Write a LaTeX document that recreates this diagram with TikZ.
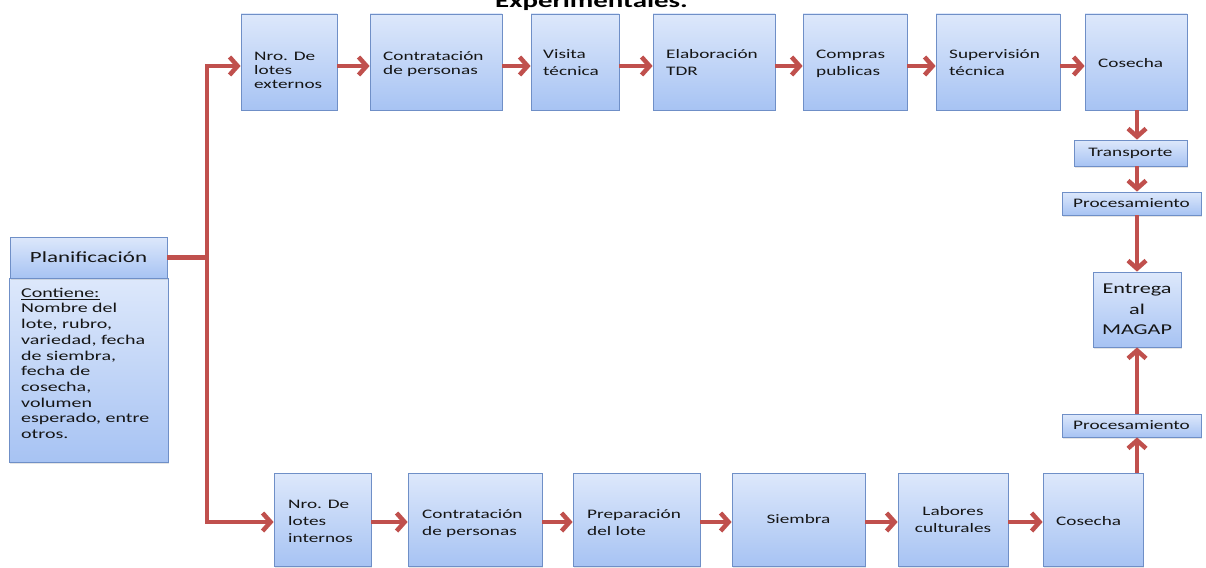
\documentclass[tikz,border=0pt]{standalone}
\usepackage{fontspec}
\setmainfont[FakeStretch=1.48]{Carlito}
\usetikzlibrary{arrows.meta,shadows}
\definecolor{arrowred}{HTML}{C0504D}
\definecolor{boxline}{HTML}{6F8FC7}
\definecolor{boxtop}{HTML}{DDE8FB}
\definecolor{boxbot}{HTML}{A7C3F3}
\definecolor{txt}{HTML}{151515}
\begin{document}
\begin{tikzpicture}[x=1pt,y=-1pt,
  box/.style={draw=boxline, line width=0.8pt, top color=boxtop, bottom color=boxbot,
    inner sep=0pt, text=txt, align=center, font=\fontsize{13}{17}\selectfont,
    drop shadow={shadow xshift=1pt,shadow yshift=-1.5pt,opacity=0.2}},
  lbl/.style={anchor=north west, inner sep=0pt, align=left, text=txt, font=\fontsize{13}{17}\selectfont},
  conn/.style={draw=arrowred, line width=4.5pt},
  arr/.style={conn, -{Straight Barb[length=8pt,width=18pt]}},
]
\fill[white] (0,0) rectangle (1206,567);
\useasboundingbox (0,0) rectangle (1206,567);

% title
\node[anchor=base west, inner sep=0pt, text=black, font=\bfseries\fontsize{19.5}{21}\selectfont] (title) at (495,8) {Experimentales.};

% Planificacion
\node[box, minimum width=159pt, minimum height=184pt] (pb) at (88.5,370) {};
\node[box, minimum width=157pt, minimum height=41pt, font=\fontsize{15.5}{18}\selectfont] (ph) at (88.5,257.5) {Planificación};
\node[lbl, font=\fontsize{13.5}{15.7}\selectfont] (pbt) at (21,286.5) {\rule{0pt}{10.5pt}\underline{Contiene:}\\Nombre del\\lote, rubro,\\variedad, fecha\\de siembra,\\fecha de\\cosecha,\\volumen\\esperado, entre\\otros.};

% top row
\node[box, minimum width=96pt, minimum height=96pt] (ne) at (289,62) {};
\node[lbl, font=\fontsize{13}{14.3}\selectfont] (net) at (254,49.7) {\rule{0pt}{10.3pt}Nro. De\\lotes\\externos};
\node[box, minimum width=132pt, minimum height=96pt] (ct1) at (436,62) {};
\node[lbl, font=\fontsize{13}{14.3}\selectfont] (ct1t) at (383,49.7) {\rule{0pt}{10.3pt}Contratación\\de personas};
\node[box, minimum width=88pt, minimum height=96pt] (vt) at (575,62) {};
\node[lbl] (vtt) at (543,47.7) {\rule{0pt}{10.3pt}Visita\\técnica};
\node[box, minimum width=122pt, minimum height=96pt] (el) at (714,62) {};
\node[lbl] (elt) at (666,47.7) {\rule{0pt}{10.3pt}Elaboración\\TDR};
\node[box, minimum width=104pt, minimum height=96pt] (cp) at (855,62) {};
\node[lbl] (cpt) at (816,47.7) {\rule{0pt}{10.3pt}Compras\\publicas};
\node[box, minimum width=124pt, minimum height=96pt] (sv) at (998,62) {};
\node[lbl] (svt) at (949,47.7) {\rule{0pt}{10.3pt}Supervisión\\técnica};
\node[box, minimum width=102pt, minimum height=96pt] (co1) at (1136,62) {};
\node[lbl] (co1t) at (1098,56.7) {\rule{0pt}{10.3pt}Cosecha};

% bottom row
\node[box, minimum width=97pt, minimum height=93pt] (ni) at (322.5,519.5) {};
\node[lbl] (nit) at (288,497.7) {\rule{0pt}{10.3pt}Nro. De\\lotes\\internos};
\node[box, minimum width=134pt, minimum height=93pt] (ct2) at (475,519.5) {};
\node[lbl] (ct2t) at (422,507.7) {\rule{0pt}{10.3pt}Contratación\\de personas};
\node[box, minimum width=127pt, minimum height=93pt] (pr) at (636.5,519.5) {};
\node[lbl] (prt) at (587,507.7) {\rule{0pt}{10.3pt}Preparación\\del lote};
\node[box, minimum width=133pt, minimum height=93pt] (si) at (798.5,519.5) {Siembra};
\node[box, minimum width=110pt, minimum height=93pt, font=\fontsize{13}{16.5}\selectfont] (lb) at (953,519.5) {Labores\\culturales};
\node[box, minimum width=100pt, minimum height=93pt] (co2) at (1093,519.5) {};
\node[lbl] (co2t) at (1056,514.7) {\rule{0pt}{10.3pt}Cosecha};

% right column
\node[box, minimum width=113pt, minimum height=26pt] (tr) at (1130.5,153) {Transporte};
\node[box, minimum width=139pt, minimum height=23pt] (p1) at (1131.5,203.5) {Procesamiento};
\node[box, minimum width=88pt, minimum height=75pt, font=\fontsize{15}{20.5}\selectfont] (en) at (1137,309.5) {Entrega\\al\\MAGAP};
\node[box, minimum width=139pt, minimum height=23pt] (p2) at (1131.5,425.5) {Procesamiento};

% connectors
\coordinate (j) at (207,257.5);
\coordinate (jt) at (207,66);
\coordinate (jb) at (207,522);
\draw[conn] (ph.east) -- (j);
\draw[arr, line join=miter] (j) -- (jt) -- (jt -| ne.west);
\draw[arr, line join=miter] (j) -- (jb) -- (jb -| ni.west);

\foreach \a/\b in {ne/ct1, ct1/vt, vt/el, el/cp, cp/sv, sv/co1}
  \draw[arr] ([yshift=-4pt]\a.east) -- ([yshift=-4pt]\b.west);
\foreach \a/\b in {ni/ct2, ct2/pr, pr/si, si/lb, lb/co2}
  \draw[arr] ([yshift=-2.5pt]\a.east) -- ([yshift=-2.5pt]\b.west);

\draw[arr] (co1.south -| en.center) -- (tr.north -| en.center);
\draw[arr] (tr.south -| en.center) -- (p1.north -| en.center);
\draw[arr] (p1.south -| en.center) -- (en.north);
\draw[arr] (co2.north -| en.center) -- (p2.south -| en.center);
\draw[arr] (p2.north -| en.center) -- (en.south);
\end{tikzpicture}
\end{document}
